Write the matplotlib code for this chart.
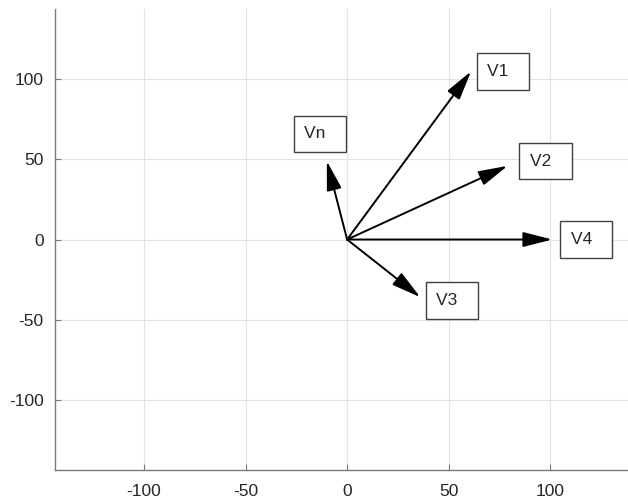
import matplotlib.pyplot as plt

# vector tips (data units)
names = ["V1", "V2", "V3", "V4", "Vn"]
tip_x = [61, 79, 36, 101, -10]
tip_y = [105, 46, -36, 0, 49]

# label anchor (left edge of text, vertical centre)
label_x = [69, 90, 44, 110, -21]
label_y = [105, 49, -38, 0, 66]

ticks = [-100, -50, 0, 50, 100]

plt.rcParams['font.family'] = ['Liberation Sans', 'DejaVu Sans']
plt.rcParams['axes.unicode_minus'] = False

fig = plt.figure(figsize=(6.28, 4.99), dpi=100)
ax = fig.add_axes([0.087, 0.058, 0.9315, 0.924])

ax.set_xlim(-144, 144)
ax.set_ylim(-144, 144)
ax.set_xticks(ticks)
ax.set_yticks(ticks)
ax.grid(True, color='#e3e3e3', lw=0.8)
ax.set_axisbelow(True)

for s in ['top', 'right']:
    ax.spines[s].set_visible(False)
for s in ['left', 'bottom']:
    ax.spines[s].set_color('#7a7a7a')
    ax.spines[s].set_linewidth(1.0)
ax.tick_params(direction='in', length=4, color='#7a7a7a', labelsize=12.5,
               labelcolor='#262626')
ax.tick_params(axis='x', pad=10)
ax.tick_params(axis='y', pad=8)

for i in range(len(names)):
    ax.annotate('', xy=(tip_x[i], tip_y[i]), xytext=(0, 0),
                arrowprops=dict(arrowstyle='-|>,head_length=18,head_width=4.6',
                                mutation_scale=1, color='black', lw=1.4,
                                shrinkA=0, shrinkB=0))
    ax.text(label_x[i], label_y[i], names[i] + '  ', ha='left', va='center',
            fontsize=12.5, color='#262626',
            bbox=dict(boxstyle='square,pad=0.62', fc='white', ec='#404040', lw=1.0))

fig.savefig('out.png', dpi=100)
